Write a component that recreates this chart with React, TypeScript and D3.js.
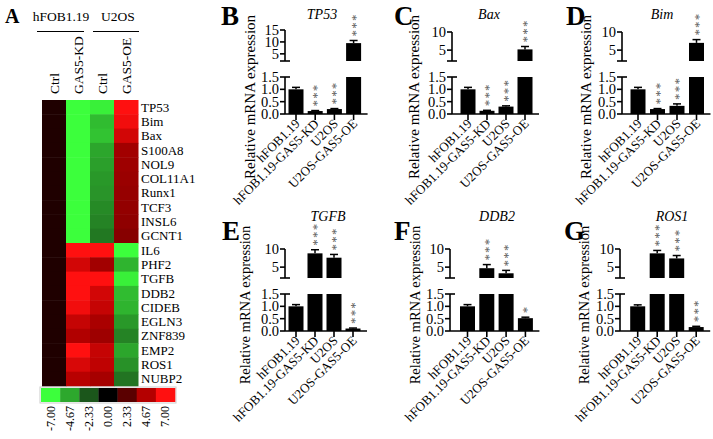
import React from 'react';
import * as d3 from 'd3';

const FONT = '"Liberation Serif", "Times New Roman", Times, serif';

// ---------- Heatmap data ----------
const genes = ['TP53', 'Bim', 'Bax', 'S100A8', 'NOL9', 'COL11A1', 'Runx1', 'TCF3', 'INSL6', 'GCNT1',
  'IL6', 'PHF2', 'TGFB', 'DDB2', 'CIDEB', 'EGLN3', 'ZNF839', 'EMP2', 'ROS1', 'NUBP2'];
const heatColumnLabels = ['Ctrl', 'GAS5-KD', 'Ctrl', 'GAS5-OE'];
const hfobCtrl = [0.8, 0.8, 0.8, 0.8, 0.8, 0.8, 0.8, 0.8, 0.8, 0.8, 0.8, 0.8, 0.8, 0.8, 0.8, 0.8, 0.8, 0.8, 0.8, 0.8];
const hfobKD = [-7, -7, -7, -7, -7, -7, -7, -7, -7, -7, 7, 5.6, 7, 7, 6.6, 5.2, 4.6, 7, 5.8, 4.8];
const u2osCtrl = [-6.6, -5.2, -5.4, -4.6, -4.4, -4.2, -4.1, -3.8, -3.6, -3.3, 7, 4.2, 7, 5.6, 5.2, 4.4, 4.1, 5.2, 5.0, 4.3];
const u2osOE = [7, 6.6, 5.6, 4.2, 4.1, 4.0, 3.9, 3.8, 3.7, 3.5, -7, -5.0, -6.6, -5.2, -5.0, -4.2, -3.6, -4.6, -4.0, -3.2];
const legendValues = [-7, -4.67, -2.33, 0, 2.33, 4.67, 7];
const legendLabels = ['-7.00', '-4.67', '-2.33', '0.00', '2.33', '4.67', '7.00'];

// ---------- Bar chart data ----------
const groups = ['hFOB1.19', 'hFOB1.19-GAS5-KD', 'U2OS', 'U2OS-GAS5-OE'];
const tp53Values = [1.0, 0.12, 0.2, 9.5];
const tp53Errors = [0.08, 0.02, 0.02, 1.1];
const tp53Stars = ['', '***', '***', '***'];
const baxValues = [1.0, 0.13, 0.3, 5.2];
const baxErrors = [0.08, 0.02, 0.03, 0.8];
const baxStars = ['', '***', '***', '***'];
const bimValues = [1.0, 0.2, 0.33, 7.0];
const bimErrors = [0.08, 0.02, 0.08, 0.9];
const bimStars = ['', '***', '***', '***'];
const tgfbValues = [1.0, 8.8, 7.6, 0.1];
const tgfbErrors = [0.07, 1.0, 0.9, 0.02];
const tgfbStars = ['', '***', '***', '***'];
const ddb2Values = [1.0, 4.7, 3.3, 0.52];
const ddb2Errors = [0.07, 1.0, 0.8, 0.04];
const ddb2Stars = ['', '***', '***', '*'];
const ros1Values = [1.0, 8.8, 7.4, 0.16];
const ros1Errors = [0.06, 0.8, 0.8, 0.03];
const ros1Stars = ['', '***', '***', '***'];

type PanelProps = {
  letter: string; title: string; values: number[]; errors: number[]; stars: string[];
  axisX: number; firstBar: number; step: number; base: number;
  upperMax: number; upperTicks: number[];
  letterX: number; letterY: number; titleX: number; titleY: number;
  labelX: number; labelY: number; labelSize: number;
};

function BarPanel(p: PanelProps) {
  const x = d3.scalePoint<string>().domain(groups).range([p.firstBar, p.firstBar + 3 * p.step]);
  const lower = d3.scaleLinear().domain([0, 1.5]).range([p.base, p.base - 37]);
  const upperTop = p.upperMax > 10 ? p.base - 84 : p.base - 82;
  const upper = d3.scaleLinear().domain([2, p.upperMax]).range([p.base - 53, upperTop]);
  const yOf = (v: number) => (v > 1.5 ? upper(Math.max(v, 2)) : lower(v));
  const bw = 15;
  const xEnd = p.firstBar + 3 * p.step + 14;
  const sw = 1.6;
  return (
    <g fontFamily={FONT}>
      <text x={p.letterX} y={p.letterY} fontSize={27} fontWeight="bold">{p.letter}</text>
      <text x={p.titleX} y={p.titleY} fontSize={14} fontStyle="italic" textAnchor="middle">{p.title}</text>
      <text transform={`translate(${p.labelX},${p.labelY}) rotate(-90)`} fontSize={p.labelSize}
        textAnchor="middle" dominantBaseline="central">Relative mRNA expression</text>
      {/* bars */}
      {groups.map((g, i) => {
        const v = p.values[i];
        const cx = x(g)!;
        return (
          <g key={g}>
            <rect x={cx - bw / 2} width={bw} y={lower(Math.min(v, 1.5))} height={lower(0) - lower(Math.min(v, 1.5))} fill="#000" />
            {v > 2 && (
              <rect x={cx - bw / 2} width={bw} y={upper(v)} height={upper(2) - upper(v)} fill="#000" />
            )}
          </g>
        );
      })}
      {/* error bars */}
      {groups.map((g, i) => {
        const v = p.values[i];
        const e = p.errors[i];
        const cx = x(g)!;
        const y0 = yOf(v);
        const y1 = yOf(v + e);
        return (
          <g key={'e' + g} stroke="#000" strokeWidth={1.5}>
            <line x1={cx} x2={cx} y1={y0} y2={y1} />
            <line x1={cx - 4} x2={cx + 4} y1={y1} y2={y1} />
          </g>
        );
      })}
      {/* significance stars: one rotated text per bar */}
      {groups.map((g, i) => {
        if (!p.stars[i]) return null;
        const cx = x(g)!;
        const yTop = yOf(p.values[i] + p.errors[i]);
        return (
          <text key={'s' + g} transform={`translate(${cx + 6},${yTop - 4}) rotate(-90)`}
            fontSize={13} fill="#555" letterSpacing={1.2}>{p.stars[i]}</text>
        );
      })}
      {/* axes */}
      <g stroke="#000" strokeWidth={sw}>
        <line x1={p.axisX} x2={p.axisX} y1={lower(1.5)} y2={lower(0)} />
        <line x1={p.axisX} x2={xEnd} y1={lower(0)} y2={lower(0)} />
        <line x1={p.axisX - 5} x2={p.axisX + 5} y1={lower(1.5)} y2={lower(1.5)} />
        {[0, 0.5, 1.0].map((t) => (
          <line key={t} x1={p.axisX - 5} x2={p.axisX} y1={lower(t)} y2={lower(t)} />
        ))}
        {groups.map((g) => (
          <line key={'xt' + g} x1={x(g)!} x2={x(g)!} y1={lower(0)} y2={lower(0) + 6} />
        ))}
        <line x1={p.axisX} x2={p.axisX} y1={upper(p.upperMax)} y2={upper(2)} />
        <line x1={p.axisX - 5} x2={p.axisX + 5} y1={upper(2)} y2={upper(2)} />
        {p.upperTicks.map((t) => (
          <line key={'u' + t} x1={p.axisX - 5} x2={p.axisX} y1={upper(t)} y2={upper(t)} />
        ))}
      </g>
      {[0, 0.5, 1.0, 1.5].map((t) => (
        <text key={'lt' + t} x={p.axisX - 6} y={lower(t)} fontSize={14.5} textAnchor="end"
          dominantBaseline="central">{t.toFixed(1)}</text>
      ))}
      {p.upperTicks.map((t) => (
        <text key={'ut' + t} x={p.axisX - 6} y={upper(t)} fontSize={14.5} textAnchor="end"
          dominantBaseline="central">{t}</text>
      ))}
      {groups.map((g) => (
        <text key={'xl' + g} transform={`translate(${x(g)! + 4.5},${lower(0) + 10.5}) rotate(-45)`}
          fontSize={13} textAnchor="end">{g}</text>
      ))}
    </g>
  );
}

function Heatmap() {
  const cols = [hfobCtrl, hfobKD, u2osCtrl, u2osOE];
  const xb = d3.scaleBand<number>().domain([0, 1, 2, 3]).range([42, 138]);
  const yb = d3.scaleBand<string>().domain(genes).range([100, 386]);
  const color = d3.scaleLinear<string>()
    .domain(legendValues)
    .range(['#3cff3c', '#2da82d', '#1b561b', '#000000', '#5a0000', '#b40000', '#ff1010'])
    .clamp(true);
  const lb = d3.scaleBand<number>().domain(d3.range(legendValues.length)).range([41, 175]);
  return (
    <g fontFamily={FONT}>
      <text x={5} y={23} fontSize={20} fontWeight="bold">A</text>
      <text x={61} y={21} fontSize={13.5} textAnchor="middle">hFOB1.19</text>
      <text x={118} y={21} fontSize={13.5} textAnchor="middle">U2OS</text>
      <line x1={37} x2={84} y1={31.5} y2={31.5} stroke="#000" strokeWidth={1} />
      <line x1={93} x2={139} y1={31.5} y2={31.5} stroke="#000" strokeWidth={1} />
      {heatColumnLabels.map((c, i) => (
        <text key={'cl' + i} transform={`translate(${xb(i)! + xb.bandwidth() / 2},94) rotate(-90)`}
          fontSize={13.5} dominantBaseline="central">{c}</text>
      ))}
      {cols.map((col, ci) =>
        genes.map((g, gi) => (
          <rect key={ci + g} x={xb(ci)!} y={yb(g)!} width={xb.bandwidth() + 0.5} height={yb.bandwidth() + 0.5}
            fill={color(col[gi])} />
        ))
      )}
      {genes.map((g) => (
        <text key={'gl' + g} x={141} y={yb(g)! + yb.bandwidth() / 2} fontSize={13} dominantBaseline="central">{g}</text>
      ))}
      <rect x={40} y={387} width={136} height={16} fill="none" stroke="#ccc" strokeWidth={1} />
      {legendValues.map((v, i) => (
        <rect key={'lg' + i} x={lb(i)!} y={388} width={lb.bandwidth() + 0.3} height={14} fill={color(v)} />
      ))}
      {legendLabels.map((l, i) => (
        <text key={'ll' + i} transform={`translate(${lb(i)! + lb.bandwidth() / 2},406) rotate(-90)`}
          fontSize={12} textAnchor="end" dominantBaseline="central">{l}</text>
      ))}
    </g>
  );
}

export default function App() {
  return (
    <svg width={713} height={439} style={{ position: 'absolute', left: 0, top: 0, background: '#fff' }}>
      <rect width={713} height={439} fill="#fff" />
      <Heatmap />
      <BarPanel letter="B" title="TP53" values={tp53Values} errors={tp53Errors} stars={tp53Stars}
        axisX={285} firstBar={296} step={19.2} base={114} upperMax={15} upperTicks={[5, 10, 15]}
        letterX={221} letterY={25} titleX={322} titleY={19} labelX={249.5} labelY={97} labelSize={15} />
      <BarPanel letter="C" title="Bax" values={baxValues} errors={baxErrors} stars={baxStars}
        axisX={452} firstBar={468} step={19} base={114} upperMax={10} upperTicks={[5, 10]}
        letterX={394} letterY={25} titleX={489} titleY={19} labelX={414} labelY={97} labelSize={15} />
      <BarPanel letter="D" title="Bim" values={bimValues} errors={bimErrors} stars={bimStars}
        axisX={622} firstBar={638} step={19.5} base={114} upperMax={10} upperTicks={[5, 10]}
        letterX={566} letterY={25} titleX={662} titleY={19} labelX={586} labelY={97} labelSize={15} />
      <BarPanel letter="E" title="TGFB" values={tgfbValues} errors={tgfbErrors} stars={tgfbStars}
        axisX={285} firstBar={296} step={19} base={331} upperMax={10} upperTicks={[5, 10]}
        letterX={222} letterY={240} titleX={328} titleY={221} labelX={245} labelY={305} labelSize={14.5} />
      <BarPanel letter="F" title="DDB2" values={ddb2Values} errors={ddb2Errors} stars={ddb2Stars}
        axisX={450} firstBar={467.5} step={19.3} base={331} upperMax={10} upperTicks={[5, 10]}
        letterX={394} letterY={240} titleX={497} titleY={221} labelX={415} labelY={305} labelSize={14.5} />
      <BarPanel letter="G" title="ROS1" values={ros1Values} errors={ros1Errors} stars={ros1Stars}
        axisX={620} firstBar={637.7} step={19.5} base={331} upperMax={10} upperTicks={[5, 10]}
        letterX={564} letterY={240} titleX={672} titleY={221} labelX={584} labelY={305} labelSize={14.5} />
    </svg>
  );
}
